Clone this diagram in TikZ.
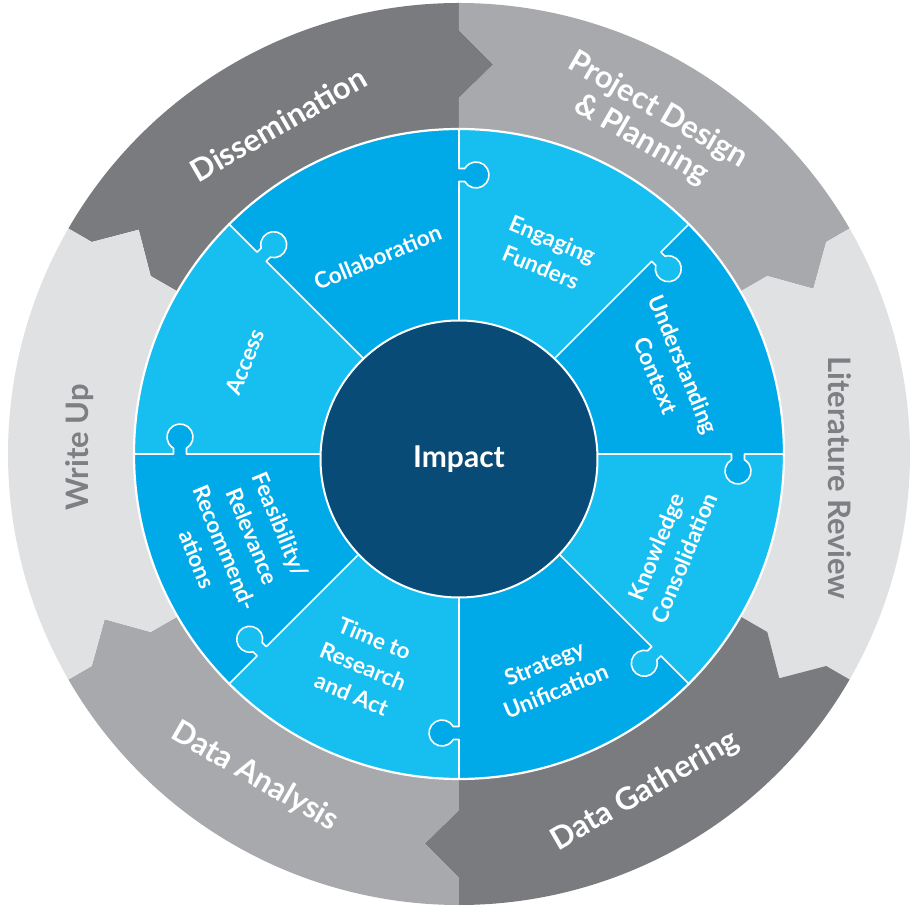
\documentclass[tikz,border=0pt]{standalone}
\usepackage{fontspec}
\setmainfont{Lato}
\definecolor{gD}{HTML}{7A7B7E}
\definecolor{gM}{HTML}{A8A9AC}
\definecolor{gL}{HTML}{E0E1E3}
\definecolor{bL}{HTML}{17BFF1}
\definecolor{bD}{HTML}{00AAE9}
\definecolor{navy}{HTML}{074B76}
\definecolor{gtxt}{HTML}{7E7F82}
\begin{document}
\begin{tikzpicture}[
  ringlbl/.style={font=\fontsize{31}{34}\selectfont\bfseries, text=white, align=center, inner sep=0pt},
  puzlbl/.style={font=\fontsize{22.5}{30}\selectfont\bfseries, text=white, align=center, inner sep=0pt},
  seam/.style={draw=white, line width=1.6pt, line join=round},
]
\useasboundingbox (-459pt,-455pt) rectangle (457pt,454pt);

% outer ring with chevron joints
\foreach \a/\c in {90/gD,30/gM,-30/gL,-90/gD,-150/gM,150/gL}{
  \fill[\c] ({\a+60}:451pt) arc[start angle={\a+60}, end angle=\a, radius=451pt]
    -- (\a:424pt) -- ({\a-5}:391pt) -- (\a:356pt) -- (\a:300pt)
    arc[start angle=\a, end angle={\a+60}, radius=300pt]
    -- ({\a+60}:356pt) -- ({\a+55}:391pt) -- ({\a+60}:424pt) -- cycle;
}

% puzzle sectors
\foreach \b/\c in {0/bD,45/bL,90/bD,135/bL,180/bD,225/bL,270/bD,315/bL}{
  \fill[\c] (0,0) -- (\b:325pt) arc[start angle=\b, end angle={\b+45}, radius=325pt] -- cycle;
}
% knobs and seams
\foreach \b/\c in {0/bD,45/bL,90/bD,135/bL,180/bD,225/bL,270/bD,315/bL}{
  \begin{scope}[rotate=\b]
    \fill[\c] (272.5pt,1pt) -- (272.5pt,-5.74pt) arc[start angle=120, end angle=420, radius=13pt] -- (285.5pt,1pt) -- cycle;
    \draw[seam] (130pt,0pt) -- (272.5pt,0pt) -- (272.5pt,-5.74pt) arc[start angle=120, end angle=420, radius=13pt] -- (285.5pt,0pt) -- (326pt,0pt);
  \end{scope}
}
\draw[white, line width=2.2pt] (0,0) circle[radius=325pt];

% centre
\node[circle, minimum size=277pt, inner sep=0pt, fill=navy, draw=white, line width=2pt,
      text=white, font=\fontsize{30}{33}\selectfont\bfseries] (impact) at (0pt,-5pt) {Impact};

% puzzle labels
\node[puzlbl, rotate=22.5] (collab) at (112.5:213pt) {Collaboration};
\node[puzlbl, rotate=-22.5] (engage) at (66.4:219pt) {Engaging\\Funders};
\node[puzlbl, rotate=-67.5] (underst) at (21.7:227pt) {Understanding\\Context};
\node[puzlbl, rotate=67.5] (knowl) at (-25:233pt) {Knowledge\\Consolidation};
\node[puzlbl, rotate=22.5] (strat) at (-67.8:241pt) {Strategy\\Unification};
\node[puzlbl, rotate=-22.5] (timeact) at (245.7:233pt) {Time to\\Research\\and Act};
\node[puzlbl, rotate=-67.5] (feas) at (201.8:237pt) {Feasibility/\\Relevance\\Recommend-\\ations};
\node[puzlbl, rotate=67.5] (access) at (156.7:233pt) {Access};

% ring labels
\node[ringlbl, rotate=30] (dissem) at (118.7:376pt) {Dissemination};
\node[ringlbl, rotate=-30] (proj) at (59.9:380pt) {Project Design\\\& Planning};
\node[ringlbl, rotate=-90, text=gtxt] (lit) at (-3.6:382pt) {Literature Review};
\node[ringlbl, rotate=30] (gather) at (-61.1:385pt) {Data Gathering};
\node[ringlbl, rotate=-30] (analysis) at (237.7:382pt) {Data Analysis};
\node[ringlbl, rotate=90, text=gtxt] (writeup) at (179:379pt) {Write Up};
\end{tikzpicture}
\end{document}
